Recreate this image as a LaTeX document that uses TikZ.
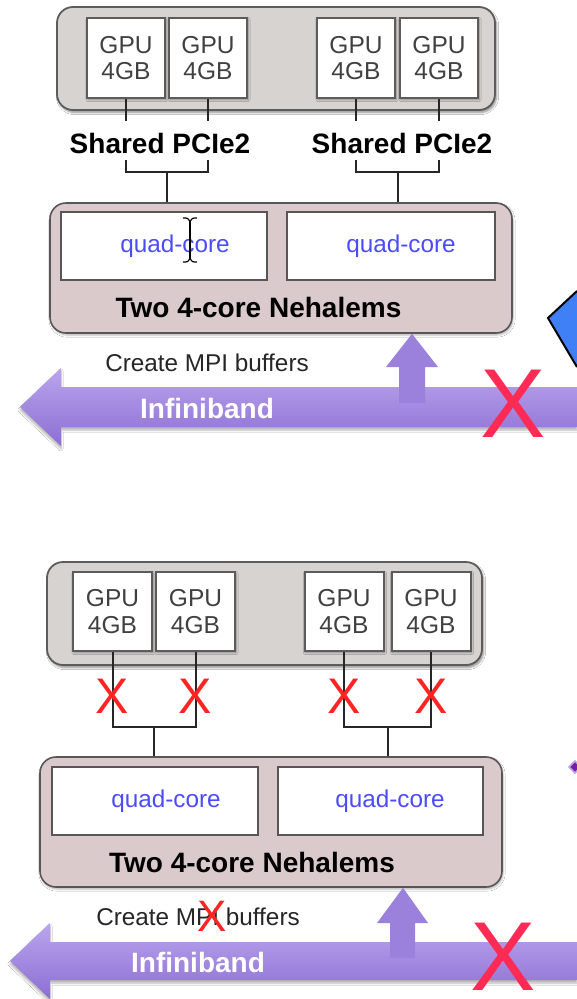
\documentclass[tikz,border=0pt]{standalone}
\usepackage{fontspec}
\setmainfont{Liberation Sans}
\usetikzlibrary{shadows,shadows.blur}

\definecolor{trayfill}{HTML}{D7D3D1}
\definecolor{trayline}{HTML}{5E5C5B}
\definecolor{hostfill}{HTML}{DACACC}
\definecolor{hostline}{HTML}{5A5556}
\definecolor{gputext}{HTML}{404040}
\definecolor{coretext}{HTML}{4B4BFF}
\definecolor{ibtop}{HTML}{BBA5EE}
\definecolor{ibbot}{HTML}{8C6ED2}
\definecolor{upfill}{HTML}{9B80DC}
\definecolor{xred}{HTML}{FF2B55}
\definecolor{xsmall}{HTML}{FF2424}
\definecolor{callout}{HTML}{3F80F7}
\definecolor{tipfill}{HTML}{7B1FA2}
\definecolor{tipline}{HTML}{B9A9F0}

\begin{document}
\begin{tikzpicture}[x=1pt,y=-1pt,
  tray/.style={draw=trayline, line width=1.8pt, fill=trayfill, rounded corners=16pt,
    blur shadow={shadow xshift=1.5pt, shadow yshift=-2.5pt, shadow opacity=45, shadow blur steps=6}},
  gpu/.style={draw=trayline, line width=2pt, fill=white, minimum width=78, minimum height=80,
    inner sep=0pt, align=center, text=gputext, font=\fontsize{24.5}{26.5}\selectfont,
    blur shadow={shadow xshift=1pt, shadow yshift=-1.5pt, shadow opacity=40, shadow blur steps=4}},
  host/.style={draw=hostline, line width=1.6pt, fill=hostfill, rounded corners=16pt,
    blur shadow={shadow xshift=1pt, shadow yshift=-2pt, shadow opacity=30, shadow blur steps=5}},
  core/.style={draw=hostline, line width=2pt, fill=white, inner sep=0pt,
    text=coretext, font=\fontsize{24.3}{26}\selectfont},
  link/.style={line width=2pt, draw=black!85},
  bold/.style={inner sep=0pt, font=\bfseries\fontsize{28}{30}\selectfont},
  plain/.style={inner sep=0pt, text=black!85, font=\fontsize{24.3}{26}\selectfont},
  ib/.style={top color=ibtop, bottom color=ibbot,
    blur shadow={shadow xshift=0pt, shadow yshift=-3pt, shadow opacity=30, shadow blur steps=6}},
  ibtext/.style={inner sep=0pt, text=white, font=\bfseries\fontsize{28}{30}\selectfont},
  bigx/.style={inner sep=0pt, text=xred, font=\fontsize{98}{100}\selectfont},
  smallx/.style={inner sep=0pt, text=xsmall, font=\fontsize{50}{52}\selectfont}]

\useasboundingbox[fill=white] (0,0) rectangle (577,999);

% ================= upper machine: shared PCIe2 =================
\node[tray, minimum width=438, minimum height=103] (trayA) at (276,58.5) {};
\node[gpu] (a1) at (126,58) {GPU\\4GB};
\node[gpu] (a2) at (208,58) {GPU\\4GB};
\node[gpu] (a3) at (356,58) {GPU\\4GB};
\node[gpu] (a4) at (439,58) {GPU\\4GB};

\foreach \g in {a1,a2,a3,a4}
  \draw[link] (\g.south) -- (\g.south |- 0,121);

\node[bold] (pA1) at (160,143) {Shared PCIe2};
\node[bold] (pA2) at (402,143) {Shared PCIe2};

\node[host, minimum width=462, minimum height=130] (hostA) at (281,268) {};
\node[core, minimum width=206, minimum height=68] (cA1) at (164,246) {\hspace*{22pt}quad-core};
\node[core, minimum width=208, minimum height=68] (cA2) at (391,246) {\hspace*{20pt}quad-core};
\node[bold] (nA) at (258.5,307) {Two 4-core Nehalems};

% brackets joining each GPU pair to the host
\path (a1.south) -- (a2.south) coordinate[pos=.5] (mA1);
\path (a3.south) -- (a4.south) coordinate[pos=.5] (mA2);
\draw[link] (a1.south |- 0,160) -- (a1.south |- 0,172) -- (a2.south |- 0,172) -- (a2.south |- 0,160);
\draw[link] (a3.south |- 0,160) -- (a3.south |- 0,172) -- (a4.south |- 0,172) -- (a4.south |- 0,160);
\draw[link] (mA1 |- 0,172) -- (mA1 |- hostA.north);
\draw[link] (mA2 |- 0,172) -- (mA2 |- hostA.north);

% text cursor over the first quad-core box
\draw[line width=1.4pt] (190,221) -- (190,259);
\draw[line width=1.2pt] (183,218) .. controls (188,218) .. (190,222) .. controls (192,218) .. (197,218);
\draw[line width=1.2pt] (183,262) .. controls (188,262) .. (190,258) .. controls (192,262) .. (197,262);

\node[plain] (mpiA) at (207,363) {Create MPI buffers};

% Infiniband link
\path[ib] (20,407) -- (61,368) -- (61,387) -- (577,387) -- (577,427) -- (61,427) -- (61,446) -- cycle;
\coordinate (upA) at (hostA.south -| 412,0);
\fill[upfill] (399,403) -- (399,367) -- (386,367) -- (upA) -- (438,367) -- (425,367) -- (425,403) -- cycle;
\node[ibtext] (ibA) at (207,408) {Infiniband};
\node[bigx] (xA) at (513,404) {X};

% partly visible blue callout at the right edge
\fill[callout] (577,291) -- (548,318) -- (577,367) -- cycle;
\draw[line width=2pt, line join=miter] (577,291) -- (548,318) -- (577,367);

% ================= lower machine: direct links =================
\node[tray, minimum width=435, minimum height=103] (trayB) at (264.5,613.5) {};
\node[gpu, minimum width=79, minimum height=79] (b1) at (112.5,611.5) {GPU\\4GB};
\node[gpu, minimum width=79, minimum height=79] (b2) at (195.5,611.5) {GPU\\4GB};
\node[gpu, minimum width=79, minimum height=79] (b3) at (344,611.5) {GPU\\4GB};
\node[gpu, minimum width=79, minimum height=79] (b4) at (431,611.5) {GPU\\4GB};

\node[host, minimum width=462, minimum height=130] (hostB) at (271,822) {};
\node[core, minimum width=206, minimum height=68] (cB1) at (155,801) {\hspace*{22pt}quad-core};
\node[core, minimum width=205, minimum height=68] (cB2) at (380.5,801) {\hspace*{19pt}quad-core};
\node[bold] (nB) at (252,862) {Two 4-core Nehalems};

\path (b1.south) -- (b2.south) coordinate[pos=.5] (mB1);
\path (b3.south) -- (b4.south) coordinate[pos=.5] (mB2);
\draw[link] (b1.south) -- (b1.south |- 0,727) -- (b2.south |- 0,727) -- (b2.south);
\draw[link] (b3.south) -- (b3.south |- 0,727) -- (b4.south |- 0,727) -- (b4.south);
\draw[link] (mB1 |- 0,727) -- (mB1 |- hostB.north);
\draw[link] (mB2 |- 0,727) -- (mB2 |- hostB.north);

\foreach \g in {b1,b2,b3,b4}
  \node[smallx] at (\g.south |- 0,696) {X};

\node[plain] (mpiB) at (198,917) {Create MPI buffers};
\node[smallx, font=\fontsize{44}{46}\selectfont] (xMpi) at (212,916) {X};

\path[ib] (10,961) -- (50,923) -- (50,942) -- (577,942) -- (577,980) -- (50,980) -- (50,999) -- cycle;
\coordinate (upB) at (hostB.south -| 403,0);
\fill[upfill] (390,958) -- (390,923) -- (377,923) -- (upB) -- (428,923) -- (415,923) -- (415,958) -- cycle;
\node[ibtext] (ibB) at (198,962) {Infiniband};
\node[bigx] (xB) at (503,957) {X};

% small arrow tip at the right edge
\filldraw[fill=tipfill, draw=tipline, line width=1.5pt] (569,767) -- (575,761) -- (581,767) -- (575,773) -- cycle;

\end{tikzpicture}
\end{document}
